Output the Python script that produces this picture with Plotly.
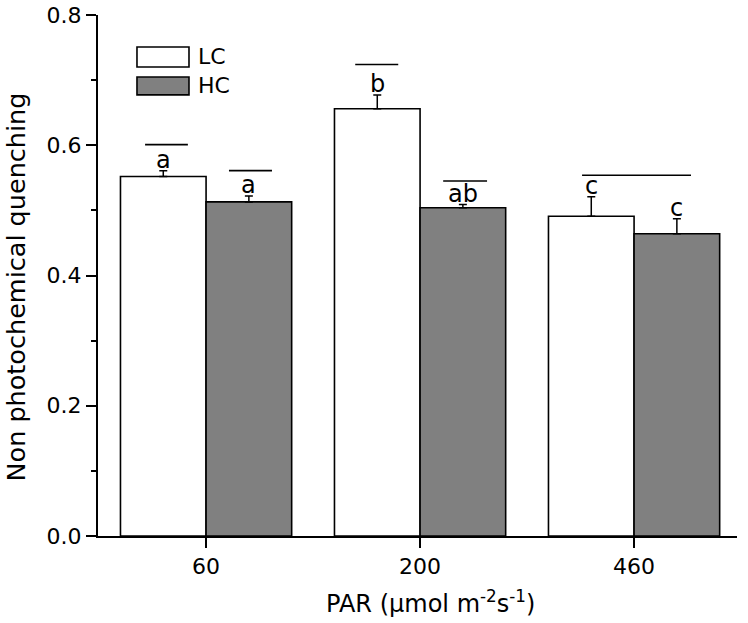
import plotly.graph_objects as go

# ---- data ----
categories = ["60", "200", "460"]
lc_values = [0.552, 0.656, 0.491]
lc_errors = [0.009, 0.021, 0.030]
hc_values = [0.513, 0.504, 0.464]
hc_errors = [0.009, 0.005, 0.023]
lc_letters = ["a", "b", "c"]
hc_letters = ["a", "ab", "c"]
# significance lines: (x start, x end in category units, y value)
sig_lines = [(-0.285, -0.085, 0.601), (0.107, 0.308, 0.561),
             (0.697, 0.898, 0.724), (1.108, 1.313, 0.545),
             (1.757, 2.266, 0.554)]

FONT = "DejaVu Sans, Liberation Sans, Arial, sans-serif"

fig = go.Figure()
fig.add_trace(go.Bar(
    x=categories, y=lc_values, name="LC",
    marker=dict(color="white", line=dict(color="black", width=1.6)),
    error_y=dict(type="data", array=lc_errors, arrayminus=[0]*3, symmetric=False,
                 color="black", thickness=1.5, width=4),
    showlegend=False))
fig.add_trace(go.Bar(
    x=categories, y=hc_values, name="HC",
    marker=dict(color="#808080", line=dict(color="black", width=1.6)),
    error_y=dict(type="data", array=hc_errors, arrayminus=[0]*3, symmetric=False,
                 color="black", thickness=1.5, width=4),
    showlegend=False))

annotations = []
for i in range(len(categories)):
    annotations.append(dict(x=i - 0.2, y=lc_values[i] + lc_errors[i], xref="x", yref="y",
                            text=lc_letters[i], showarrow=False, yanchor="bottom",
                            yshift=-5, font=dict(family=FONT, size=24, color="black")))
    annotations.append(dict(x=i + 0.2, y=hc_values[i] + hc_errors[i], xref="x", yref="y",
                            text=hc_letters[i], showarrow=False, yanchor="bottom",
                            yshift=-5, font=dict(family=FONT, size=24, color="black")))

shapes = []
for x0, x1, yv in sig_lines:
    shapes.append(dict(type="line", xref="x", yref="y", x0=x0, x1=x1, y0=yv, y1=yv,
                       line=dict(color="black", width=1.6)))

# legend
shapes.append(dict(type="rect", xref="paper", yref="paper", x0=0.061, x1=0.1424,
                   y0=0.9003, y1=0.9386, fillcolor="white", line=dict(color="black", width=1.6)))
shapes.append(dict(type="rect", xref="paper", yref="paper", x0=0.061, x1=0.1424,
                   y0=0.8466, y1=0.8811, fillcolor="#808080", line=dict(color="black", width=1.6)))
annotations.append(dict(x=0.153, y=0.9195, xref="paper", yref="paper", text="LC",
                        showarrow=False, xanchor="left", yanchor="middle",
                        font=dict(family=FONT, size=22, color="black")))
annotations.append(dict(x=0.153, y=0.8639, xref="paper", yref="paper", text="HC",
                        showarrow=False, xanchor="left", yanchor="middle",
                        font=dict(family=FONT, size=22, color="black")))

# axis titles
annotations.append(dict(x=-0.129, y=0.478, xref="paper", yref="paper",
                        text="Non photochemical quenching", textangle=-90,
                        showarrow=False, xanchor="center", yanchor="middle",
                        font=dict(family=FONT, size=25.5, color="black")))
annotations.append(dict(x=0.52, y=-0.1275, xref="paper", yref="paper",
                        text="PAR (μmol m<sup>-2</sup>s<sup>-1</sup>)",
                        showarrow=False, xanchor="center", yanchor="middle",
                        font=dict(family=FONT, size=24, color="black")))

fig.update_layout(
    width=748, height=623,
    margin=dict(l=98, r=11, t=15, b=87, autoexpand=False),
    paper_bgcolor="white", plot_bgcolor="white",
    barmode="group", bargap=0.2, bargroupgap=0,
    showlegend=False,
    annotations=annotations, shapes=shapes,
    font=dict(family=FONT, color="black"),
    xaxis=dict(type="category", range=[-0.505, 2.481], showgrid=False, automargin=False,
               showline=True, linecolor="black", linewidth=2,
               ticks="outside", ticklen=10, tickwidth=2, tickcolor="black",
               tickfont=dict(family=FONT, size=22, color="black"), zeroline=False),
    yaxis=dict(range=[0, 0.8], tickvals=[0, 0.2, 0.4, 0.6, 0.8], automargin=False,
               ticktext=["0.0", "0.2", "0.4", "0.6", "0.8"], showgrid=False,
               showline=True, linecolor="black", linewidth=2,
               ticks="outside", ticklen=10, tickwidth=2, tickcolor="black",
               minor=dict(tickvals=[0.1, 0.3, 0.5, 0.7], ticks="outside", ticklen=5,
                          tickwidth=2, tickcolor="black", showgrid=False),
               tickfont=dict(family=FONT, size=22, color="black"), zeroline=False),
)

fig.write_html("out.html",
               config={"displayModeBar": False, "staticPlot": True},
               post_script="document.body.style.margin='0';document.body.style.padding='0';"
                           "document.body.style.overflow='hidden';")
